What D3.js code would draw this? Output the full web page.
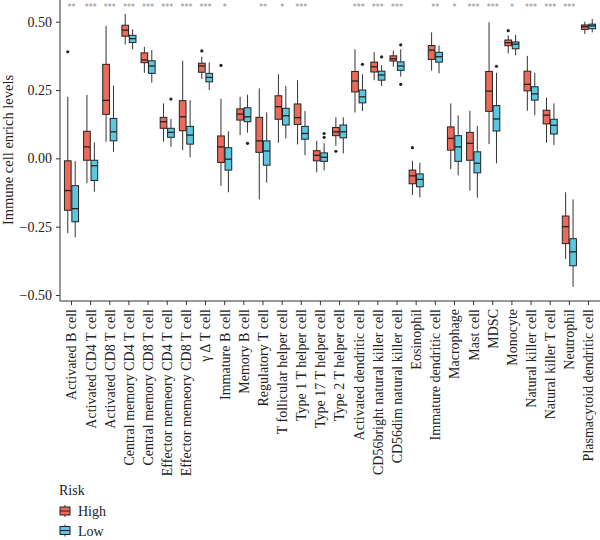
<!DOCTYPE html>
<html><head><meta charset="utf-8">
<script src="https://cdn.jsdelivr.net/npm/d3@7"></script>
<style>body{margin:0;background:#fff}svg{display:block}</style>
</head><body>
<svg id="c" width="600" height="540"></svg>
<script>
const categories = ["Activated B cell","Activated CD4 T cell","Activated CD8 T cell","Central memory CD4 T cell","Central memory CD8 T cell","Effector memeory CD4 T cell","Effector memeory CD8 T cell","γ Δ T cell","Immature B cell","Memory B cell","Regulatory T cell","T follicular helper cell","Type 1 T helper cell","Type 17 T helper cell","Type 2 T helper cell","Activated dendritic cell","CD56bright natural killer cell","CD56dim natural killer cell","Eosinophil","Immature dendritic cell","Macrophage","Mast cell","MDSC","Monocyte","Natural killer cell","Natural killer T cell","Neutrophil","Plasmacytoid dendritic cell"];
// [whiskerLow, q1, median, q3, whiskerHigh]
const highStats = [
[-0.274,-0.19,-0.118,-0.009,0.225],[-0.091,-0.007,0.042,0.099,0.232],[0.061,0.161,0.212,0.344,0.485],[0.417,0.447,0.469,0.487,0.528],
[0.313,0.35,0.36,0.386,0.408],[0.061,0.11,0.134,0.15,0.201],[0.03,0.101,0.152,0.211,0.357],[0.29,0.315,0.338,0.348,0.372],
[-0.101,-0.015,0.042,0.082,0.218],[0.085,0.14,0.162,0.181,0.225],[-0.15,0.022,0.064,0.15,0.256],[0.057,0.143,0.189,0.229,0.308],
[0.051,0.124,0.149,0.199,0.286],[-0.051,-0.009,0.011,0.028,0.064],[0.046,0.083,0.097,0.113,0.15],[0.168,0.243,0.283,0.318,0.399],
[0.286,0.316,0.335,0.352,0.389],[0.335,0.356,0.364,0.375,0.394],[-0.134,-0.093,-0.064,-0.043,-0.009],[0.321,0.362,0.396,0.413,0.461],
[-0.04,0.03,0.073,0.115,0.201],[-0.118,-0.007,0.055,0.095,0.174],[0.052,0.172,0.246,0.318,0.498],[0.384,0.412,0.423,0.433,0.45],
[0.174,0.247,0.271,0.319,0.375],[0.057,0.126,0.158,0.176,0.222],[-0.368,-0.312,-0.25,-0.211,-0.124],[0.455,0.472,0.482,0.488,0.5]];
const lowStats = [
[-0.289,-0.232,-0.184,-0.10,-0.01],[-0.122,-0.081,-0.027,-0.007,0.058],[0.024,0.064,0.097,0.146,0.266],[0.399,0.424,0.438,0.45,0.472],
[0.277,0.311,0.338,0.357,0.396],[0.042,0.077,0.095,0.11,0.144],[0.004,0.052,0.085,0.117,0.213],[0.25,0.28,0.296,0.311,0.351],
[-0.124,-0.043,-0.003,0.039,0.099],[0.094,0.134,0.152,0.185,0.233],[-0.089,-0.025,0.027,0.064,0.168],[0.073,0.122,0.156,0.183,0.265],
[0.012,0.07,0.091,0.117,0.173],[-0.044,-0.011,0.004,0.02,0.055],[0.018,0.075,0.097,0.122,0.15],[0.173,0.203,0.225,0.25,0.308],
[0.265,0.286,0.305,0.319,0.341],[0.299,0.322,0.338,0.353,0.399],[-0.143,-0.104,-0.077,-0.057,-0.016],[0.311,0.352,0.372,0.388,0.413],
[-0.062,-0.011,0.042,0.083,0.157],[-0.144,-0.053,-0.018,0.024,0.118],[-0.018,0.1,0.144,0.193,0.313],[0.377,0.401,0.418,0.426,0.452],
[0.158,0.213,0.236,0.262,0.313],[0.049,0.089,0.121,0.143,0.201],[-0.47,-0.393,-0.342,-0.294,-0.15],[0.461,0.474,0.485,0.491,0.51]];
// outliers: [categoryIndex, value]
const highOutliers = [[0,0.39],[7,0.393],[8,0.34],[14,0.026],[18,0.039],[23,0.467]];
const lowOutliers = [[5,0.217],[9,0.055],[13,0.091],[13,0.077],[15,0.344],[16,0.371],[17,0.415],[17,0.271],[22,0.337]];
const signif = ["**","***","***","***","***","***","***","***","*","","**","*","***","","","***","***","***","","**","*","***","***","*","***","***","***",""];
const groups = ["High","Low"];
const yTicks = [-0.5,-0.25,0,0.25,0.5];
const colors = {High:"#EC6A5A", Low:"#5BC7E1"};

const svg = d3.select("#c");
const font = "'Liberation Serif', 'Times New Roman', serif";
const mLeft = 60, mRight = 600, mTop = 0, mBottom = 301;

const x = d3.scaleBand().domain(categories).range([mLeft, mRight]).paddingOuter(0.1).paddingInner(0);
const xg = d3.scaleBand().domain(groups).range([0, x.bandwidth()]).paddingInner(0.1).paddingOuter(0.34);
const y = d3.scaleLinear().domain([-0.5, 0.5]).range([295, 21.7]);

// axes
const yAxis = svg.append("g").attr("transform", `translate(${mLeft},0)`)
  .call(d3.axisLeft(y).tickValues(yTicks).tickFormat(d3.format(".2f")).tickSize(4).tickSizeOuter(0));
yAxis.select(".domain").attr("d", `M0,${mTop}V${mBottom}`);
yAxis.selectAll("text").attr("font-family", font).attr("font-size", 14).attr("fill", "#222").attr("x", -8)
  .text(d => d < 0 ? "\u2212" + d3.format(".2f")(-d) : d3.format(".2f")(d));
yAxis.selectAll("line").attr("stroke", "#333");
yAxis.select(".domain").attr("stroke", "#333");

const xAxis = svg.append("g").attr("transform", `translate(0,${mBottom})`)
  .call(d3.axisBottom(x).tickSize(4).tickSizeOuter(0));
xAxis.select(".domain").attr("d", `M${mLeft},0H${mRight}`).attr("stroke", "#333");
xAxis.selectAll("line").attr("stroke", "#333");
xAxis.selectAll("text").attr("font-family", font).attr("font-size", 14).attr("fill", "#222")
  .attr("transform", "rotate(-90)").attr("text-anchor", "end").attr("x", -8).attr("y", 0).attr("dy", "0.35em");

svg.append("text").attr("transform", "translate(13,150) rotate(-90)").attr("text-anchor", "middle")
  .attr("font-family", font).attr("font-size", 14.5).attr("fill", "#222").text("Immune cell enrich levels");

// boxes
function drawBoxes(stats, grp, outl) {
  const g = svg.append("g");
  const bw = xg.bandwidth();
  stats.forEach((s, i) => {
    const x0 = x(categories[i]) + xg(grp);
    const cx = x0 + bw / 2;
    g.append("line").attr("x1", cx).attr("x2", cx).attr("y1", y(s[4])).attr("y2", y(s[3])).attr("stroke", "#333").attr("stroke-width", 1);
    g.append("line").attr("x1", cx).attr("x2", cx).attr("y1", y(s[1])).attr("y2", y(s[0])).attr("stroke", "#333").attr("stroke-width", 1);
    g.append("rect").attr("x", x0).attr("width", bw).attr("y", y(s[3])).attr("height", y(s[1]) - y(s[3]))
      .attr("fill", colors[grp]).attr("stroke", "#222").attr("stroke-width", 1);
    g.append("line").attr("x1", x0).attr("x2", x0 + bw).attr("y1", y(s[2])).attr("y2", y(s[2])).attr("stroke", "#222").attr("stroke-width", 1.3);
  });
  outl.forEach(([i, v]) => {
    g.append("circle").attr("cx", x(categories[i]) + xg(grp) + bw / 2).attr("cy", y(v)).attr("r", 1.6).attr("fill", "#222");
  });
}
drawBoxes(highStats, "High", highOutliers);
drawBoxes(lowStats, "Low", lowOutliers);

// significance
svg.append("g").selectAll("text").data(signif).join("text")
  .attr("x", (d, i) => x(categories[i]) + x.bandwidth() / 2).attr("y", 10)
  .attr("text-anchor", "middle").attr("font-family", "'DejaVu Sans', sans-serif").attr("font-size", 8).attr("fill", "#888")
  .text(d => d);

// legend
const lg = svg.append("g").attr("font-family", font).attr("font-size", 14).attr("fill", "#222");
lg.append("text").attr("x", 59).attr("y", 495).text("Risk");
groups.forEach((grp, k) => {
  const cy = 511 + k * 19.5;
  lg.append("line").attr("x1", 65).attr("x2", 65).attr("y1", cy - 6).attr("y2", cy + 6).attr("stroke", "#333");
  lg.append("rect").attr("x", 60).attr("y", cy - 4).attr("width", 10).attr("height", 8).attr("fill", colors[grp]).attr("stroke", "#222");
  lg.append("line").attr("x1", 60).attr("x2", 70).attr("y1", cy).attr("y2", cy).attr("stroke", "#222");
  lg.append("text").attr("x", 78).attr("y", cy + 5).text(grp);
});
</script>
</body></html>
